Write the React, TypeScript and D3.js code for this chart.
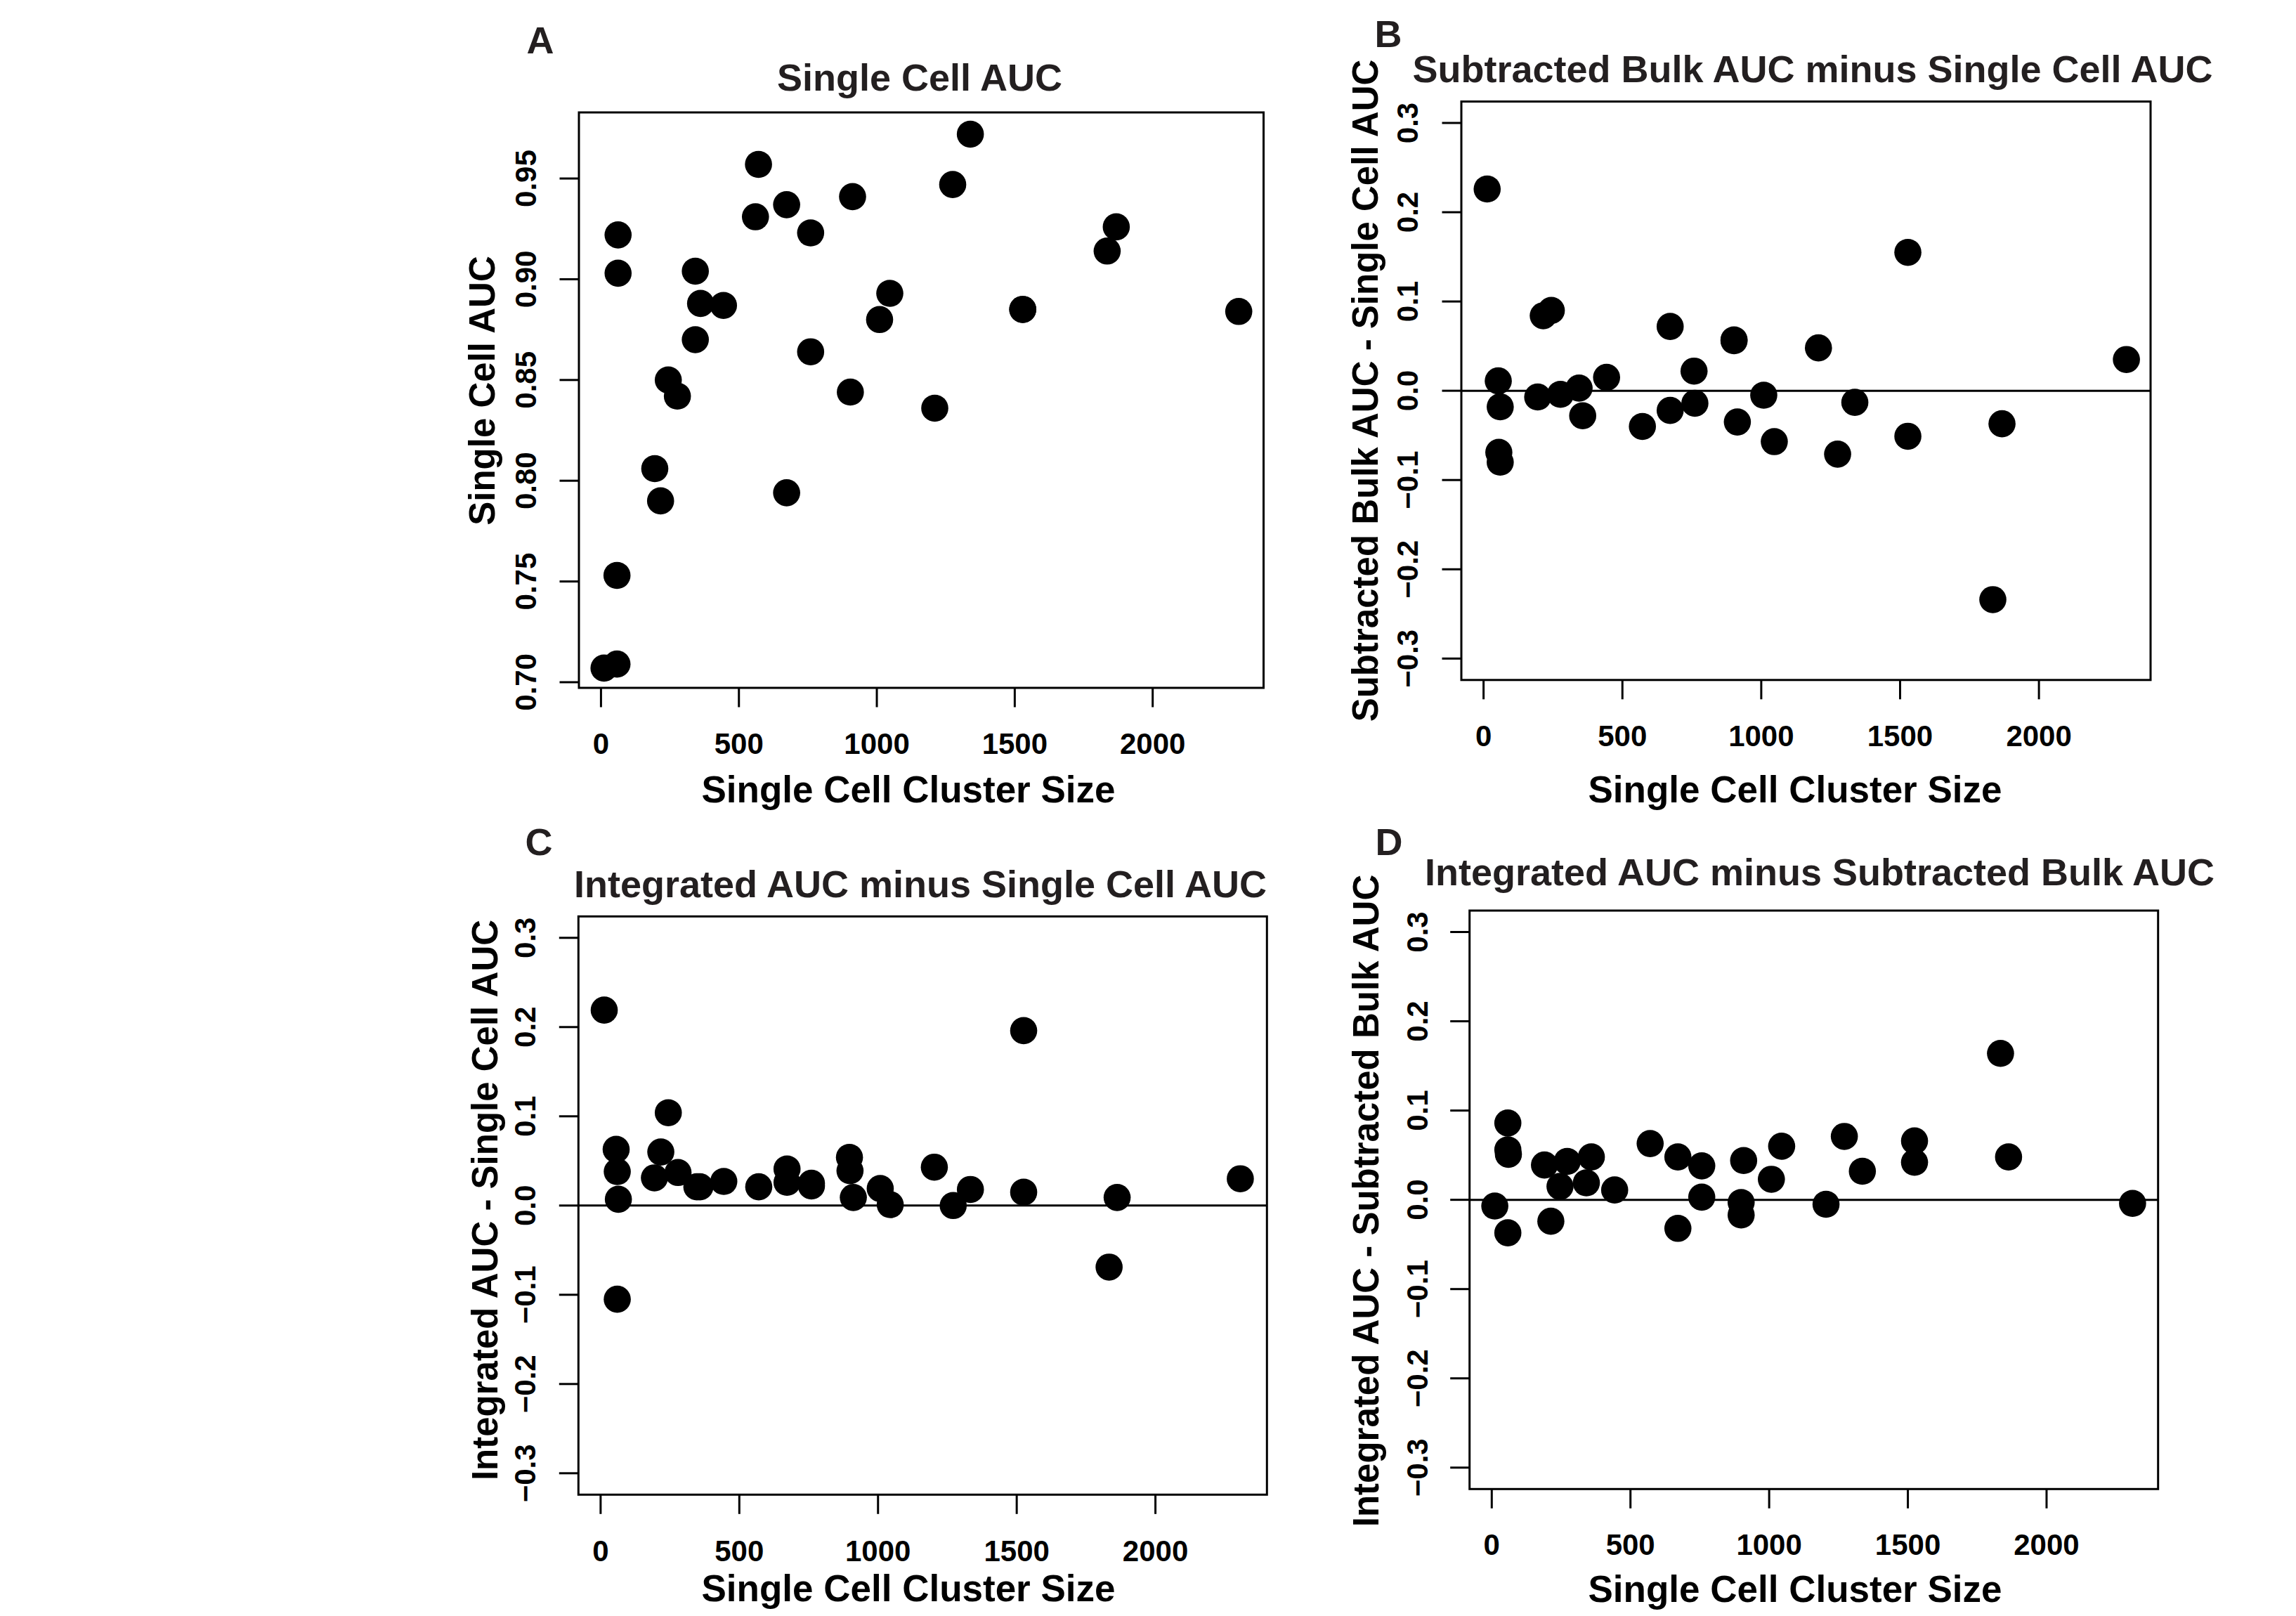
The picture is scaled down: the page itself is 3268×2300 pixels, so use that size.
import React from "react";
import * as d3 from "d3";

// shared axis ticks
const xTicks = [0, 500, 1000, 1500, 2000];
const aucTicks = [0.7, 0.75, 0.8, 0.85, 0.9, 0.95];
const diffTicks = [-0.3, -0.2, -0.1, 0, 0.1, 0.2, 0.3];

// A: single cell AUC vs cluster size
const sizesA = [11, 58, 58, 62, 62, 195, 216, 244, 277, 342, 342, 361, 444, 560, 571, 673, 673, 760, 760, 904, 912, 1010, 1047, 1210, 1275, 1339, 1529, 1529, 1835, 1868, 2312];
const singleCellAUC = [0.707, 0.709, 0.753, 0.922, 0.903, 0.806, 0.790, 0.850, 0.842, 0.904, 0.870, 0.888, 0.887, 0.931, 0.957, 0.937, 0.794, 0.923, 0.864, 0.844, 0.941, 0.880, 0.893, 0.836, 0.947, 0.972, 0.885, 0.885, 0.914, 0.926, 0.884];

// B: subtracted bulk AUC - single cell AUC
const sizesB = [13, 53, 60, 55, 60, 195, 215, 244, 277, 344, 357, 443, 572, 672, 672, 758, 761, 902, 902, 914, 1009, 1047, 1206, 1275, 1337, 1528, 1528, 1834, 1867, 2315];
const bulkMinusSC = [0.226, 0.011, -0.018, -0.069, -0.080, -0.007, 0.084, 0.090, -0.004, 0.003, -0.028, 0.015, -0.040, 0.072, -0.022, 0.022, -0.014, 0.057, 0.056, -0.035, -0.005, -0.057, 0.048, -0.071, -0.013, 0.155, -0.051, -0.234, -0.037, 0.035];

// C: integrated AUC - single cell AUC
const sizesC = [13, 56, 60, 64, 60, 194, 217, 244, 279, 347, 358, 444, 570, 672, 672, 760, 760, 897, 899, 911, 1008, 1044, 1203, 1271, 1333, 1525, 1525, 1833, 1862, 2306];
const integratedMinusSC = [0.219, 0.063, 0.038, 0.007, -0.105, 0.031, 0.060, 0.104, 0.037, 0.021, 0.021, 0.027, 0.021, 0.041, 0.026, 0.022, 0.025, 0.054, 0.039, 0.009, 0.019, 0.001, 0.043, 0.000, 0.018, 0.196, 0.015, -0.069, 0.009, 0.030];

// D: integrated AUC - subtracted bulk AUC
const sizesD = [11, 58, 58, 60, 58, 190, 213, 246, 272, 341, 359, 443, 571, 671, 671, 757, 757, 908, 899, 899, 1008, 1045, 1205, 1271, 1336, 1524, 1524, 1834, 1863, 2310];
const integratedMinusBulk = [-0.007, 0.086, 0.056, 0.051, -0.037, 0.039, -0.024, 0.015, 0.043, 0.019, 0.048, 0.011, 0.063, 0.048, -0.032, 0.038, 0.003, 0.044, -0.003, -0.017, 0.023, 0.060, -0.005, 0.071, 0.032, 0.066, 0.042, 0.164, 0.048, -0.004];

const FONT = "'Liberation Sans', Arial, Helvetica, sans-serif";
const INK = "#231f20";
const xDomain = [-80, 2402];

const panels = [
  {
    letter: "A", letterX: 769, letterY: 76,
    title: "Single Cell AUC", titleX: 1309, titleY: 129,
    yTitle: "Single Cell AUC", yTitleX: 704, yTitleY: 556,
    left: 824, right: 1798.5, top: 160, bottom: 979,
    yDomain: [0.6972, 0.9828], yTicks: aucTicks, fmt: d3.format(".2f"),
    yLabelX: 763, xLabelY: 1073, xTitleX: 1293, xTitleY: 1142,
    sizes: sizesA, values: singleCellAUC, zero: false,
  },
  {
    letter: "B", letterX: 1976, letterY: 67,
    title: "Subtracted Bulk AUC minus Single Cell AUC", titleX: 2580, titleY: 117,
    yTitle: "Subtracted Bulk AUC - Single Cell AUC", yTitleX: 1961, yTitleY: 556,
    left: 2080, right: 3061, top: 144.5, bottom: 967.8,
    yDomain: [-0.324, 0.324], yTicks: diffTicks, fmt: d3.format(".1f"),
    yLabelX: 2018, xLabelY: 1062, xTitleX: 2555, xTitleY: 1142,
    sizes: sizesB, values: bulkMinusSC, zero: true,
  },
  {
    letter: "C", letterX: 767, letterY: 1217,
    title: "Integrated AUC minus Single Cell AUC", titleX: 1310, titleY: 1277,
    yTitle: "Integrated AUC - Single Cell AUC", yTitleX: 708, yTitleY: 1708,
    left: 823.3, right: 1803.3, top: 1304.3, bottom: 2127.3,
    yDomain: [-0.324, 0.324], yTicks: diffTicks, fmt: d3.format(".1f"),
    yLabelX: 762, xLabelY: 2222, xTitleX: 1293, xTitleY: 2279,
    sizes: sizesC, values: integratedMinusSC, zero: true,
  },
  {
    letter: "D", letterX: 1977, letterY: 1217,
    title: "Integrated AUC minus Subtracted Bulk AUC", titleX: 2590, titleY: 1260,
    yTitle: "Integrated AUC - Subtracted Bulk AUC", yTitleX: 1962, yTitleY: 1709,
    left: 2091.7, right: 3071.7, top: 1296, bottom: 2119.3,
    yDomain: [-0.324, 0.324], yTicks: diffTicks, fmt: d3.format(".1f"),
    yLabelX: 2032, xLabelY: 2213, xTitleX: 2555, xTitleY: 2280,
    sizes: sizesD, values: integratedMinusBulk, zero: true,
  },
];

function Panel({ p }: { p: any }) {
  const x = d3.scaleLinear().domain(xDomain).range([p.left, p.right]);
  const y = d3.scaleLinear().domain(p.yDomain).range([p.bottom, p.top]);
  const tick = 27.5;
  return (
    <g>
      <text x={p.letterX} y={p.letterY} textAnchor="middle" fontSize={54} fontWeight="bold" fill={INK}>{p.letter}</text>
      <text x={p.titleX} y={p.titleY} textAnchor="middle" fontSize={54} fontWeight="bold" fill={INK}>{p.title}</text>
      <text transform={`translate(${p.yTitleX},${p.yTitleY}) rotate(-90)`} textAnchor="middle" fontSize={51} fontWeight="bold" fill="#000">{p.yTitle}</text>
      <text x={p.xTitleX} y={p.xTitleY} textAnchor="middle" fontSize={53} fontWeight="bold" fill="#000">Single Cell Cluster Size</text>

      {p.zero && (
        <line x1={p.left} x2={p.right} y1={y(0)} y2={y(0)} stroke="#000" strokeWidth={3} />
      )}

      {xTicks.map((t) => (
        <g key={"x" + t}>
          <line x1={x(t)} x2={x(t)} y1={p.bottom} y2={p.bottom + tick} stroke="#000" strokeWidth={3} />
          <text x={x(t)} y={p.xLabelY} textAnchor="middle" fontSize={42} fontWeight="bold" fill="#000">{t}</text>
        </g>
      ))}
      {p.yTicks.map((t: number) => (
        <g key={"y" + t}>
          <line x1={p.left - tick} x2={p.left} y1={y(t)} y2={y(t)} stroke="#000" strokeWidth={3} />
          <text transform={`translate(${p.yLabelX},${y(t)}) rotate(-90)`} textAnchor="middle" fontSize={42} fontWeight="bold" fill="#000">{p.fmt(t)}</text>
        </g>
      ))}

      {p.sizes.map((s: number, i: number) => (
        <circle key={i} cx={x(s)} cy={y(p.values[i])} r={19.3} fill="#000" />
      ))}

      <rect x={p.left} y={p.top} width={p.right - p.left} height={p.bottom - p.top} fill="none" stroke="#000" strokeWidth={3} />
    </g>
  );
}

export default function App() {
  return (
    <svg
      width={3268}
      height={2300}
      style={{ position: "absolute", left: 0, top: 0, background: "#fff" }}
      fontFamily={FONT}
    >
      {panels.map((p) => (
        <Panel key={p.letter} p={p} />
      ))}
    </svg>
  );
}
